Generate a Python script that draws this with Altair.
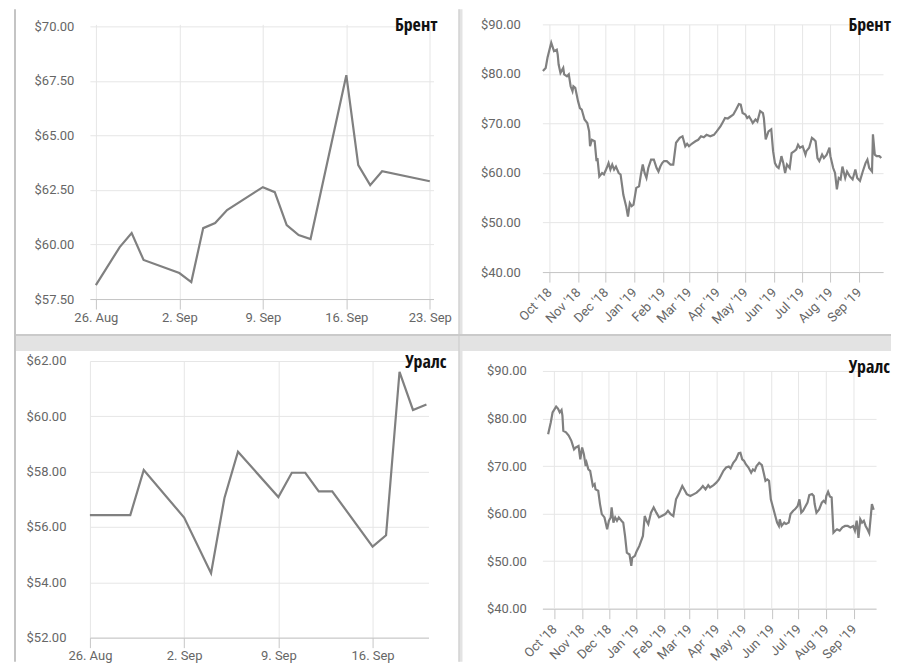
import altair as alt
import pandas as pd

# ---------------- data ----------------
# Brent, last month
brent_m_dates = ["2019-08-26", "2019-08-28", "2019-08-29", "2019-08-30", "2019-09-02",
                 "2019-09-03", "2019-09-04", "2019-09-05", "2019-09-06", "2019-09-09",
                 "2019-09-10", "2019-09-11", "2019-09-12", "2019-09-13", "2019-09-16",
                 "2019-09-17", "2019-09-18", "2019-09-19", "2019-09-23"]
brent_m_values = [58.14, 59.88, 60.52, 59.29, 58.69, 58.28, 60.75, 60.98, 61.58, 62.63,
                  62.40, 60.89, 60.43, 60.25, 67.76, 63.64, 62.72, 63.36, 62.90]

# Urals, last month
urals_m_dates = ["2019-08-26", "2019-08-29", "2019-08-30", "2019-09-02", "2019-09-04",
                 "2019-09-05", "2019-09-06", "2019-09-09", "2019-09-10", "2019-09-11",
                 "2019-09-12", "2019-09-13", "2019-09-16", "2019-09-17", "2019-09-18",
                 "2019-09-19", "2019-09-20"]
urals_m_values = [56.43, 56.43, 58.06, 56.34, 54.33, 57.06, 58.72, 57.08, 57.96, 57.96,
                  57.29, 57.29, 55.29, 55.70, 61.61, 60.23, 60.43]

# Yearly series: dates given as days counted from 1 Oct 2018
year_origin = "2018-10-01"
brent_y_days = [-7, -4, -2, 2, 5, 8, 9, 10, 12, 15,
                16, 19, 21, 23, 25, 26, 28, 31, 33, 35,
                38, 41, 43, 44, 46, 49, 51, 52, 54, 57,
                59, 62, 64, 66, 68, 70, 72, 75, 77, 79,
                80, 83, 85, 87, 89, 91, 94, 97, 99, 101,
                103, 105, 107, 110, 113, 116, 118, 120, 122, 124,
                127, 131, 134, 137, 141, 144, 147, 149, 151, 154,
                158, 161, 164, 167, 170, 174, 178, 181, 185, 188,
                190, 193, 196, 199, 202, 205, 207, 209, 212, 214,
                216, 218, 220, 223, 225, 228, 231, 232, 234, 237,
                240, 242, 244, 246, 248, 250, 251, 253, 255, 257,
                260, 262, 265, 267, 269, 271, 274, 277, 278, 281,
                284, 286, 288, 290, 292, 295, 297, 300, 303, 304,
                307, 309, 311, 313, 315, 317, 320, 322, 325, 328,
                331, 333, 336, 339, 342, 344, 346, 349, 350, 352,
                354, 357, 359]
brent_y_values = [80.6, 81.2, 83.3, 86.3, 84.6, 84.9, 83.9, 81.9, 80.2, 81.2,
                  79.9, 79.5, 79.9, 77.5, 76.5, 77.5, 77.2, 74.5, 73.1, 72.8,
                  70.8, 70.1, 68.4, 65.4, 66.7, 66.4, 62.4, 63.0, 59.3, 60.0,
                  59.7, 61.0, 62.0, 60.7, 61.7, 60.7, 61.3, 60.0, 59.7, 57.0,
                  55.6, 53.3, 51.2, 53.9, 53.3, 53.6, 57.0, 57.3, 59.7, 61.7,
                  60.0, 59.0, 61.0, 62.7, 62.7, 61.0, 60.3, 61.3, 62.0, 62.4,
                  62.4, 61.7, 61.7, 66.1, 67.1, 67.4, 65.4, 65.9, 65.4, 65.9,
                  66.4, 66.7, 67.4, 67.2, 67.7, 67.4, 67.7, 68.4, 69.4, 70.4,
                  71.1, 71.0, 71.4, 71.8, 72.8, 73.9, 73.8, 72.1, 71.8, 71.1,
                  71.4, 70.8, 70.1, 70.8, 70.4, 72.5, 72.1, 71.1, 66.8, 68.4,
                  68.8, 64.4, 62.0, 61.3, 61.0, 62.4, 63.4, 62.0, 60.0, 61.7,
                  61.0, 64.0, 64.4, 64.7, 65.7, 65.1, 65.4, 63.7, 64.4, 65.1,
                  67.1, 66.8, 66.4, 63.0, 62.4, 63.7, 63.0, 63.7, 65.1, 63.4,
                  61.0, 60.0, 56.7, 59.0, 58.7, 61.3, 59.0, 60.3, 59.3, 58.7,
                  60.7, 59.0, 58.4, 60.3, 62.0, 62.7, 61.0, 60.3, 67.8, 63.7,
                  63.4, 63.4, 63.0]

urals_y_days = [-7, -4, -2, 2, 4, 6, 8, 9, 10, 13,
                16, 19, 22, 24, 27, 29, 31, 33, 35, 36,
                38, 40, 43, 45, 46, 49, 51, 53, 56, 59,
                61, 63, 64, 66, 68, 70, 72, 75, 77, 79,
                81, 84, 86, 87, 90, 92, 95, 99, 101, 103,
                105, 108, 111, 114, 117, 120, 124, 127, 130, 133,
                136, 139, 143, 146, 148, 152, 156, 159, 163, 166,
                169, 172, 174, 178, 181, 184, 186, 189, 192, 195,
                197, 200, 203, 206, 208, 210, 212, 214, 217, 220,
                222, 224, 226, 229, 232, 234, 236, 238, 240, 242,
                244, 247, 249, 251, 252, 254, 257, 259, 262, 264,
                267, 269, 272, 274, 276, 278, 280, 283, 285, 288,
                290, 291, 293, 296, 299, 301, 303, 304, 306, 308,
                310, 312, 314, 316, 319, 322, 325, 328, 331, 334,
                336, 338, 340, 342, 344, 346, 348, 350, 352, 355,
                357]
urals_y_values = [76.7, 79.2, 81.3, 82.5, 82.1, 81.3, 81.8, 80.6, 77.4, 77.1,
                  76.4, 75.3, 73.5, 73.9, 74.2, 71.4, 73.9, 72.5, 70.0, 70.7,
                  69.3, 69.0, 65.8, 66.2, 65.1, 64.8, 62.0, 59.9, 59.2, 56.7,
                  58.5, 59.2, 61.3, 58.1, 59.2, 58.5, 59.2, 58.5, 58.1, 55.3,
                  51.8, 51.4, 49.0, 50.7, 51.1, 52.1, 53.2, 55.3, 59.5, 58.5,
                  57.8, 60.2, 61.3, 60.2, 59.2, 59.5, 59.9, 60.6, 59.9, 59.5,
                  63.0, 64.1, 65.8, 64.8, 64.1, 63.7, 64.1, 64.4, 65.1, 65.8,
                  65.1, 66.0, 65.5, 66.0, 66.5, 67.2, 67.9, 69.0, 69.7, 69.9,
                  69.5, 70.7, 71.4, 72.7, 72.8, 71.4, 71.1, 70.4, 69.7, 68.6,
                  69.3, 69.0, 70.0, 70.7, 70.2, 68.6, 66.9, 67.2, 66.9, 63.0,
                  61.6, 59.5, 58.1, 57.4, 58.8, 57.4, 58.1, 57.8, 58.1, 59.9,
                  60.6, 60.9, 61.6, 63.0, 60.2, 60.6, 61.3, 62.3, 63.9, 64.1,
                  63.7, 62.0, 60.2, 60.9, 62.3, 62.7, 62.3, 63.7, 64.6, 63.6,
                  63.4, 56.0, 56.4, 56.7, 56.4, 57.1, 57.4, 57.4, 57.1, 57.4,
                  56.4, 58.5, 54.9, 58.8, 58.1, 58.5, 57.4, 56.7, 55.9, 62.0,
                  60.8]

# tick labels
brent_week_ticks = ["2019-08-26", "2019-09-02", "2019-09-09", "2019-09-16", "2019-09-23"]
urals_week_ticks = ["2019-08-26", "2019-09-02", "2019-09-09", "2019-09-16"]
month_ticks = ["2018-10-01", "2018-11-01", "2018-12-01", "2019-01-01", "2019-02-01",
               "2019-03-01", "2019-04-01", "2019-05-01", "2019-06-01", "2019-07-01",
               "2019-08-01", "2019-09-01"]
brent_m_yticks = [57.5, 60.0, 62.5, 65.0, 67.5, 70.0]
urals_m_yticks = [52, 54, 56, 58, 60, 62]
year_yticks = [40, 50, 60, 70, 80, 90]

titles = ["Брент", "Уралс"]

# ---------------- helpers ----------------
FONT = "Roboto, 'Liberation Sans', sans-serif"
TFONT = ("'Open Sans Condensed', 'Noto Sans Condensed', 'Liberation Sans Narrow', "
         "'DejaVu Sans Condensed', Roboto, sans-serif")
LINE = "#808080"
GRID = "#e6e6e6"
AXIS = "#c6c6c6"
LABEL = "#666666"


def dt(s):
    t = pd.Timestamp(s)
    return alt.DateTime(year=t.year, month=t.month, date=t.day,
                        hours=t.hour, minutes=t.minute)


def year_df(days, vals):
    return pd.DataFrame({
        "date": pd.Timestamp(year_origin) + pd.to_timedelta(days, unit="D"),
        "price": vals,
    })


def month_df(dates, vals):
    return pd.DataFrame({"date": pd.to_datetime(dates), "price": vals})


one = pd.DataFrame({"k": [0]})


def panel(df, xdom, xticks, xfmt, angle, ydom, yticks, ylabpad, w, h,
          title, tx, ty, tsize, xgrid=True, vgrid_top=None):
    xaxis = alt.Axis(values=[dt(v) for v in xticks], format=xfmt, labelAngle=angle,
                     labelAlign="right" if angle else "center",
                     labelBaseline="middle" if angle else "top",
                     tickSize=10, tickColor=AXIS, domainColor=AXIS,
                     grid=xgrid, gridColor=GRID, labelPadding=8 if angle else 2,
                     labelColor=LABEL, labelFont=FONT, labelFontSize=13,
                     labelFlush=False, labelOverlap=False, title=None)
    yaxis = alt.Axis(values=yticks, format="$.2f", domain=False, ticks=False,
                     tickSize=0, grid=True, gridColor=GRID, labelPadding=ylabpad,
                     labelColor=LABEL, labelFont=FONT, labelFontSize=13, title=None)
    xs = alt.Scale(domain=[dt(xdom[0]), dt(xdom[1])])
    ys = alt.Scale(domain=ydom, nice=False, zero=False)
    layers = []
    if vgrid_top is not None:
        tdf = pd.DataFrame({"date": pd.to_datetime(xticks)})
        layers.append(
            alt.Chart(tdf).mark_rule(color=GRID, strokeWidth=1).encode(
                x=alt.X("date:T", scale=xs, axis=xaxis),
                y=alt.value(vgrid_top), y2=alt.value(h))
        )
    layers.append(
        alt.Chart(df).mark_line(color=LINE, strokeWidth=2.2).encode(
            x=alt.X("date:T", scale=xs, axis=xaxis),
            y=alt.Y("price:Q", scale=ys, axis=yaxis))
    )
    layers.append(
        alt.Chart(one).mark_text(text=title, align="right", baseline="middle",
                                 font=TFONT, fontSize=tsize, fontWeight="bold",
                                 color="#111111").encode(
            x=alt.value(tx), y=alt.value(ty))
    )
    return layers


# decorations (gaps between the cards), drawn in the first panel
GAP = "#e3e3e3"
deco = [
    alt.Chart(one).mark_rect(color=GAP).encode(
        x=alt.value(369), x2=alt.value(373), y=alt.value(-15), y2=alt.value(638)),
    alt.Chart(one).mark_rect(color=GAP).encode(
        x=alt.value(-76), x2=alt.value(802), y=alt.value(310), y2=alt.value(327)),
    alt.Chart(one).mark_rect(color="#cacaca").encode(
        x=alt.value(-76), x2=alt.value(802), y=alt.value(310), y2=alt.value(312)),
    alt.Chart(one).mark_rect(color="#cacaca").encode(
        x=alt.value(369), x2=alt.value(370), y=alt.value(-15), y2=alt.value(638)),
    alt.Chart(one).mark_rect(color="#c4c4c4").encode(
        x=alt.value(-76), x2=alt.value(-74), y=alt.value(-15), y2=alt.value(638)),
]

TS = 18

tl = alt.layer(*(deco + panel(
    month_df(brent_m_dates, brent_m_values),
    ("2019-08-25 12:00", "2019-09-23 07:27"), brent_week_ticks, "%-d. %b", 0,
    [57.5, 70.09], brent_m_yticks, 16, 344, 275, titles[0], 348, 2, TS))
).properties(width=344, height=275)

tr = alt.layer(*panel(
    year_df(brent_y_days, brent_y_values),
    ("2018-09-23 10:34", "2019-09-26 21:36"), month_ticks, "%b '%y", -45,
    [40, 90], year_yticks, 22, 341, 248, titles[0], 349, 2, TS)
).properties(width=341, height=248)

bl = alt.layer(*panel(
    month_df(urals_m_dates, urals_m_values),
    ("2019-08-26 00:00", "2019-09-20 03:43"), urals_week_ticks, "%-d. %b", 0,
    [52, 62], urals_m_yticks, 24, 339, 277, titles[1], 357, 2, TS)
).properties(width=339, height=277)

br = alt.layer(*panel(
    year_df(urals_y_days, urals_y_values),
    ("2018-09-17 14:24", "2019-09-25 14:24"), month_ticks, "%b '%y", -45,
    [40, 92.1], year_yticks, 16, 334, 248, titles[1], 348, 7, TS,
    xgrid=False, vgrid_top=10)
).properties(width=334, height=248)

chart = alt.concat(
    tl, tr, bl, br, columns=2,
    spacing={"row": 60, "column": 109}, bounds="flush", align="all"
).properties(
    padding={"left": 5, "top": 0, "right": 0, "bottom": 0},
    background="white",
).configure_view(stroke="transparent")

chart.save("out.html", embed_options={"renderer": "svg", "actions": False})
